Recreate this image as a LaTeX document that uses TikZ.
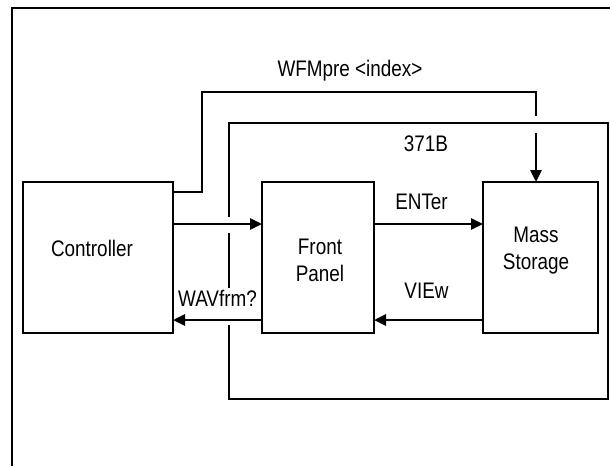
\documentclass[tikz,border=0pt]{standalone}
\usepackage{fontspec}
\setmainfont{Liberation Sans}[FakeStretch=0.84]
\usetikzlibrary{arrows.meta}

\begin{document}
\begin{tikzpicture}[
    x=1pt, y=-1pt,
    font=\fontsize{22.5}{27}\selectfont,
    >={Triangle[length=12pt,width=11pt]},
    unit/.style={
        draw,
        line width=2.8pt,
        minimum height=151pt,
        outer sep=0pt,
        inner sep=0pt
    },
    wire/.style={line width=2.8pt},
    tag/.style={inner sep=0pt, align=center}
]
    \useasboundingbox (0,0) rectangle (610,466);
    % frame
    \draw[line width=1.8pt] (12,466) -- (12,8) -- (610,8);

    \node[unit, minimum width=150pt] (ctrl) at (98,257.5) {};
    \node[unit, minimum width=112pt] (front) at (318,257.5) {};
    \node[unit, minimum width=115pt] (mass) at (540.5,257.5) {};
    \node[tag] (ctrl-txt) at (92,248) {Controller};
    \node[tag] (front-txt) at (320,260) {Front\\Panel};
    \node[tag] (mass-txt) at (536,251) {Mass\\Storage};

    % 371B enclosure, broken where the lines cross it
    \draw[line width=2.6pt] (229,217) -- (229,123) -- (608,123) -- (608,399)
        -- (229,399) -- (229,325);
    \draw[line width=2.6pt] (229,233) -- (229,288);
    \node[tag] (sys) at (426,144) {371B};

    \coordinate (hop-top) at (536,116);
    \coordinate (hop-bot) at (536,133);
    \draw[wire] ([yshift=-10pt]ctrl.north east) -- ++(29,0) |-
        node[tag, pos=.75, above=9.5pt, xshift=-19pt] (wfm) {WFMpre <index>}
        (hop-top |- 0,92) -- (hop-top);
    \draw[wire,->] (hop-bot) -- (hop-bot |- mass.north);

    \draw[wire,->] ([yshift=33.5pt]ctrl.east) -- ([yshift=33.5pt]front.west);
    \draw[wire,->] ([yshift=33.5pt]front.east) -- node[tag, above=13pt, xshift=-7pt]
        (enter) {ENTer} ([yshift=33.5pt]mass.west);
    \draw[wire,->] ([yshift=-62.5pt]mass.west) -- node[tag, above=20pt, xshift=-2pt]
        (view) {VIEw} ([yshift=-62.5pt]front.east);
    \draw[wire,->] ([yshift=-62.5pt]front.west) -- node[tag, above=12pt]
        (wav) {WAVfrm?} ([yshift=-62.5pt]ctrl.east);
\end{tikzpicture}
\end{document}
